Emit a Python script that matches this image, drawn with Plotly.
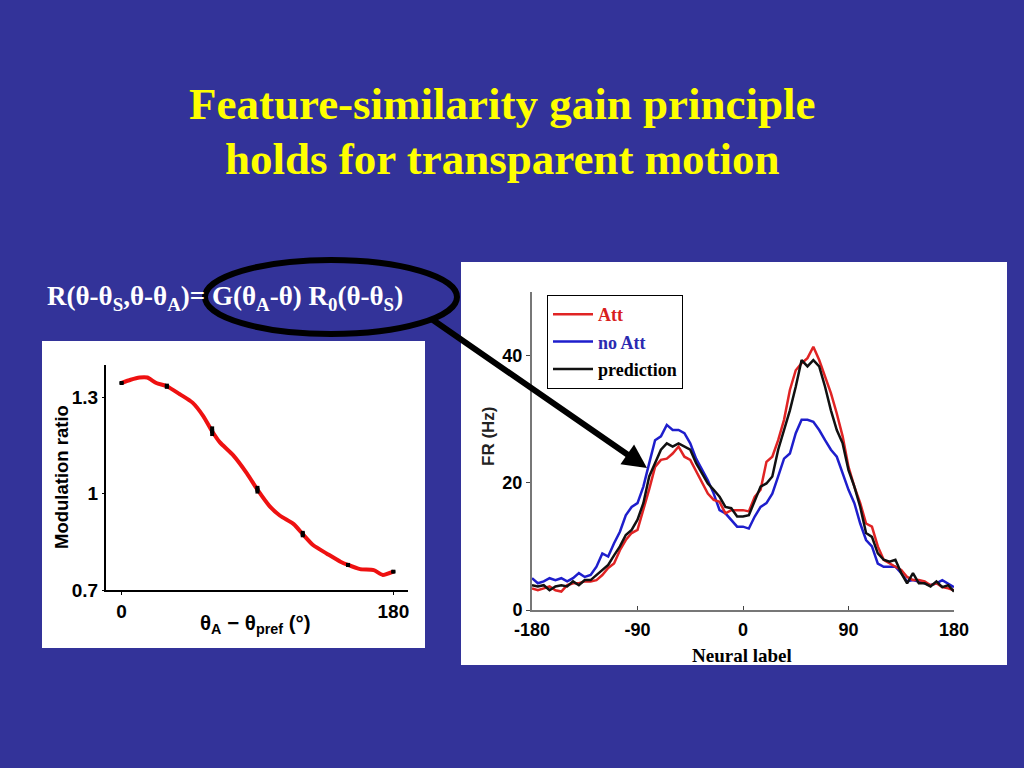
import plotly.graph_objects as go

# ---------------- data ----------------
# Left panel: modulation ratio vs theta_A - theta_pref
theta_a = [0, 6, 12, 17, 23, 30, 39, 47, 54, 60, 65, 74, 83, 90, 98, 105, 114, 120,
           127, 136, 145, 150, 158, 167, 173, 180]
mod_ratio = [1.344, 1.354, 1.361, 1.361, 1.344, 1.334, 1.308, 1.283, 1.242, 1.194,
             1.160, 1.119, 1.063, 1.012, 0.961, 0.931, 0.905, 0.874, 0.839, 0.813,
             0.788, 0.778, 0.765, 0.762, 0.747, 0.757]
err_theta = [0, 30, 60, 90, 120, 150, 180]
err_ratio = [1.344, 1.334, 1.194, 1.012, 0.874, 0.778, 0.757]
err_size = [0.004, 0.008, 0.015, 0.012, 0.010, 0.006, 0.004]

# Right panel: firing rate vs neural label
neural_label = [-180, -175, -170, -165, -160, -155, -150, -145, -140, -135, -130, -125,
                -120, -115, -110, -105, -100, -95, -90, -85, -80, -75, -70, -65,
                -60, -55, -50, -45, -40, -35, -30, -25, -20, -15, -10, -5,
                0, 5, 10, 15, 20, 25, 30, 35, 40, 45, 50, 55,
                60, 65, 70, 75, 80, 85, 90, 95, 100, 105, 110, 115,
                120, 125, 130, 135, 140, 145, 150, 155, 160, 165, 170, 175, 180]
fr_no_att = [5.0, 4.2, 4.5, 5.0, 4.7, 5.0, 4.5, 5.0, 5.8, 5.2, 5.5, 6.8, 8.9, 8.4, 10.5, 12.3, 14.9, 16.2,
             16.8, 19.4, 23.1, 26.7, 27.3, 29.1, 28.3, 28.3, 27.8, 26.2, 23.8, 22.0, 20.4, 18.3, 15.7, 15.2, 14.2, 13.1,
             13.1, 12.8, 14.7, 16.2, 16.8, 18.3, 21.0, 23.8, 24.6, 27.8, 29.9, 29.9, 29.6, 28.3, 26.7, 25.2,
             24.1, 21.5, 18.9, 16.8, 13.6, 11.0, 10.0, 7.3, 6.8, 6.8, 6.8, 5.8, 4.5, 4.7, 4.5, 4.2, 3.9, 4.2, 4.7, 4.2, 3.6]
fr_att = [3.4, 3.1, 3.4, 3.7, 3.1, 2.9, 3.9, 4.2, 4.2, 4.5, 4.5, 4.7, 5.5, 6.6, 7.3, 9.4, 11.0, 12.1,
          12.6, 15.7, 19.0, 22.5, 23.6, 23.8, 24.6, 25.7, 24.1, 23.6, 21.8, 19.9, 18.3, 17.3, 17.0, 15.2, 15.7, 15.7,
          15.7, 15.5, 17.8, 18.9, 23.3, 24.1, 26.7, 29.9, 34.6, 37.7, 38.8, 39.6, 41.4, 39.3, 36.7, 34.1,
          30.9, 27.3, 22.5, 19.4, 16.8, 13.6, 13.1, 10.0, 7.9, 7.3, 6.8, 6.3, 5.2, 4.7, 4.7, 4.5, 3.9, 4.2, 3.6, 3.4, 3.1]
fr_pred = [3.9, 3.7, 3.9, 3.1, 3.7, 3.9, 3.7, 4.5, 3.9, 4.7, 4.7, 5.5, 6.3, 7.1, 8.6, 10.0, 11.8, 12.6,
           14.2, 16.8, 21.0, 23.1, 25.2, 26.2, 25.7, 26.2, 25.7, 25.2, 23.1, 21.5, 19.9, 18.9, 17.8, 16.2, 16.0, 14.7,
           14.7, 14.9, 17.3, 19.4, 19.9, 21.0, 25.2, 28.3, 31.4, 35.1, 39.3, 38.3, 39.3, 38.3, 35.1, 31.4,
           28.3, 26.2, 22.0, 19.4, 16.2, 12.1, 11.5, 8.9, 7.9, 7.6, 7.9, 5.8, 4.2, 5.8, 4.2, 4.2, 3.7, 4.5, 3.6, 3.9, 2.9]

left_yticks = [0.7, 1, 1.3]
left_yticktext = ["0.7", "1", "1.3"]
left_xticks = [0, 180]
right_xticks = [-180, -90, 0, 90, 180]
right_xticktext = ["-180", "-90", "0", "90", "180"]
right_yticks = [0, 20, 40]

# ---------------- helpers ----------------
W, H = 1024, 768
def px(x):
    return x / W
def py(y):
    return 1 - y / H

SANS = "Liberation Sans, Arial, sans-serif"
SERIF = "Liberation Serif, Times New Roman, serif"
BG = "#333399"
RED = "#e02424"
BLUE = "#1e1ecc"
BLACK = "#111111"

fig = go.Figure()

# Left panel traces
fig.add_trace(go.Scatter(x=theta_a, y=mod_ratio, mode="lines",
                         line=dict(color="#ee1111", width=4, shape="spline", smoothing=0.6),
                         xaxis="x", yaxis="y", showlegend=False, hoverinfo="skip"))
fig.add_trace(go.Scatter(x=err_theta, y=err_ratio, mode="markers",
                         marker=dict(color="black", size=4, symbol="square"),
                         error_y=dict(type="data", array=err_size, color="black", thickness=4, width=0),
                         xaxis="x", yaxis="y", showlegend=False, hoverinfo="skip"))

# Right panel traces
fig.add_trace(go.Scatter(x=neural_label, y=fr_no_att, mode="lines",
                         name='<b><span style="color:#2a2ab0">no Att</span></b>',
                         line=dict(color=BLUE, width=2.5), legendrank=2, legendgroup="b",
                         xaxis="x2", yaxis="y2"))
fig.add_trace(go.Scatter(x=neural_label, y=fr_att, mode="lines",
                         name='<b><span style="color:#d81e1e">Att</span></b>',
                         line=dict(color=RED, width=2.5), legendrank=1, legendgroup="a",
                         xaxis="x2", yaxis="y2"))
fig.add_trace(go.Scatter(x=neural_label, y=fr_pred, mode="lines",
                         name='<b><span style="color:#000000">prediction</span></b>',
                         line=dict(color=BLACK, width=2.5), legendrank=3, legendgroup="c",
                         xaxis="x2", yaxis="y2"))

tick_sans = dict(family=SANS, size=19, color="black", weight="bold")

fig.update_layout(
    width=W, height=H, autosize=False,
    margin=dict(l=0, r=0, t=0, b=0, pad=0, autoexpand=False),
    paper_bgcolor=BG,
    plot_bgcolor="rgba(0,0,0,0)",
    xaxis=dict(domain=[px(106), px(408)], range=[-10.3, 189.7], tickvals=left_xticks,
               ticks="outside", ticklen=3, tickcolor="black", showline=True, linecolor="black",
               linewidth=2, showgrid=False, zeroline=False, tickfont=tick_sans, anchor="y",
               fixedrange=True, automargin=False),
    yaxis=dict(domain=[py(590), py(365)], range=[0.7, 1.4], tickvals=left_yticks,
               ticktext=left_yticktext, ticks="outside", ticklen=2, tickcolor="black",
               showline=True, linecolor="black", linewidth=2, showgrid=False, zeroline=False,
               tickfont=tick_sans, anchor="x", fixedrange=True, automargin=False),
    xaxis2=dict(domain=[px(532), px(954)], range=[-180, 180], tickvals=right_xticks,
                ticktext=right_xticktext,
                ticks="inside", ticklen=4, tickcolor="#444", showline=True, linecolor="#777",
                linewidth=2, showgrid=False, zeroline=False, ticklabelstandoff=2,
                tickfont=dict(family=SANS, size=18, color="black", weight="bold"),
                anchor="y2", fixedrange=True, automargin=False),
    yaxis2=dict(domain=[py(610), py(292)], range=[0, 50], tickvals=right_yticks,
                ticks="outside", ticklen=4, tickcolor="#444", showline=True, linecolor="#777",
                linewidth=2, showgrid=False, zeroline=False,
                tickfont=dict(family=SANS, size=18, color="black", weight="bold"),
                anchor="x2", fixedrange=True, automargin=False),
    legend=dict(x=px(547), y=py(295), xanchor="left", yanchor="top",
                bgcolor="white", bordercolor="black", borderwidth=1,
                font=dict(family=SERIF, size=18, color="black"),
                tracegroupgap=1, itemwidth=40),
    showlegend=True,
)

# White panels, ellipse
fig.add_shape(type="rect", xref="paper", yref="paper", x0=px(42), x1=px(425), y0=py(648), y1=py(341),
              fillcolor="white", line=dict(width=0), layer="below")
fig.add_shape(type="rect", xref="paper", yref="paper", x0=px(461), x1=px(1007), y0=py(665), y1=py(262),
              fillcolor="white", line=dict(width=0), layer="below")
fig.add_shape(type="circle", xref="paper", yref="paper", x0=px(205), x1=px(457), y0=py(334), y1=py(260),
              line=dict(color="black", width=6), fillcolor="rgba(0,0,0,0)", layer="above")

ann = []
# Title
ann.append(dict(text="<b>Feature-similarity gain principle</b>", x=px(502), y=py(104),
                xref="paper", yref="paper", showarrow=False, xanchor="center", yanchor="middle",
                font=dict(family=SERIF, size=45, color="#ffff00")))
ann.append(dict(text="<b>holds for transparent motion</b>", x=px(502), y=py(159),
                xref="paper", yref="paper", showarrow=False, xanchor="center", yanchor="middle",
                font=dict(family=SERIF, size=45, color="#ffff00")))
# Formula
ann.append(dict(text="<b>R(θ-θ<sub>S</sub>,θ-θ<sub>A</sub>)= G(θ<sub>A</sub>-θ) R<sub>0</sub>(θ-θ<sub>S</sub>)</b>",
                x=px(45), y=py(298), xref="paper", yref="paper", showarrow=False,
                xanchor="left", yanchor="middle", font=dict(family=SERIF, size=27, color="white")))
# Left axis titles
ann.append(dict(text="<b>Modulation ratio</b>", x=px(61), y=py(477), xref="paper", yref="paper",
                showarrow=False, textangle=-90, xanchor="center", yanchor="middle",
                font=dict(family=SANS, size=18.5, color="black")))
ann.append(dict(text="<b>θ<sub>A</sub> − θ<sub>pref</sub> (°)</b>", x=px(255), y=py(624),
                xref="paper", yref="paper", showarrow=False, xanchor="center", yanchor="middle",
                font=dict(family=SANS, size=20.5, color="black")))
# Right axis titles
ann.append(dict(text="<b>FR (Hz)</b>", x=px(488), y=py(437), xref="paper", yref="paper",
                showarrow=False, textangle=-90, xanchor="center", yanchor="middle",
                font=dict(family=SANS, size=17, color="#222")))
ann.append(dict(text="<b>Neural label</b>", x=px(742), y=py(655), xref="paper", yref="paper",
                showarrow=False, xanchor="center", yanchor="middle",
                font=dict(family=SERIF, size=19, color="black")))
# Arrow
ann.append(dict(text="", x=px(647), y=py(468), xref="paper", yref="paper",
                ax=430 - 647, ay=318 - 468, axref="pixel", ayref="pixel",
                showarrow=True, arrowhead=2, arrowsize=0.8, arrowwidth=6, arrowcolor="black"))
fig.update_layout(annotations=ann)

fig.write_html("out.html", config={"responsive": False, "displayModeBar": False},
               post_script="document.body.style.margin='0px';document.body.style.overflow='hidden';")
